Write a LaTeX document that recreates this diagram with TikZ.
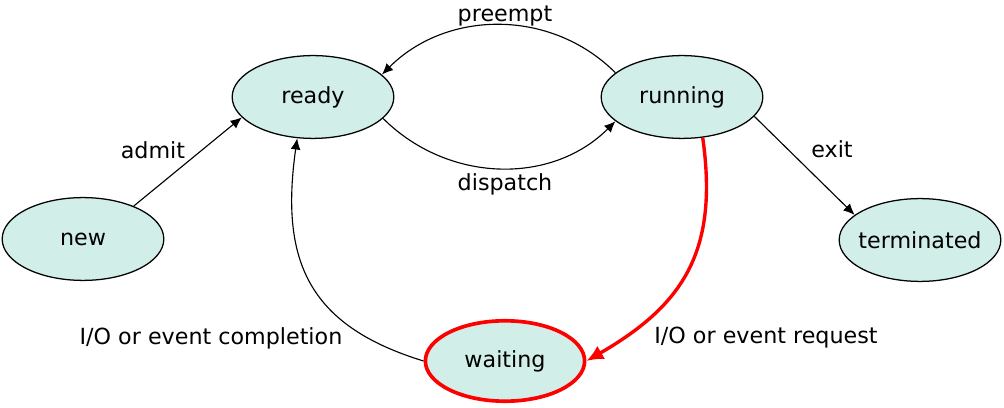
\documentclass[tikz,border=0pt]{standalone}
\usepackage{fontspec}
\setmainfont{DejaVu Sans}
\usepackage{xcolor}
\usetikzlibrary{shapes.geometric,arrows.meta}
\definecolor{statefill}{RGB}{209,238,232}
\tikzset{>={Latex[length=8pt,width=7pt]}}
\tikzset{
  state/.style={draw, ellipse, fill=statefill, line width=0.9pt,
    inner sep=-6pt, minimum width=4.04cm, minimum height=2.07cm,
    font=\fontsize{15.8}{19}\selectfont},
  edgelabel/.style={font=\fontsize{15.8}{19}\selectfont, inner sep=0pt}
}

\begin{document}
\begin{tikzpicture}[x=0.025cm,y=0.025cm]
  \useasboundingbox (0,0) rectangle (1004,407);

  \node [state] (ready) at (313,310) {ready};
  \node [state] (running) at (682,310) {running};
  \node [state] (new) at (83,168) {new};
  \node [state] (terminated) at (920,167) {terminated};
  \node [state,
    draw=red, line width=2.6pt,
    minimum width=3.98cm, minimum height=2.01cm
  ] (waiting) at (505,46) {waiting};

  \node [edgelabel] (lpreempt) at (505,391) {preempt};
  \node [edgelabel] (ldispatch) at (505,223) {dispatch};
  \node [edgelabel] (ladmit) at (153,257) {admit};
  \node [edgelabel] (lexit) at (832,258) {exit};
  \node [edgelabel] (lcompletion) at (211,69) {I/O or event completion};
  \node [edgelabel] (lrequest) at (766,69) {I/O or event request};

  \draw[->, line width=0.8pt] (new.33) -- (ready.196);
  \draw[->, line width=0.8pt] (running.-15) -- (terminated.159);
  \draw[->, line width=0.8pt] (running.160) to[out=135, in=45] (ready.18);
  \draw[->, line width=0.8pt] (ready.-17) to[out=-45, in=-135] (running.200);
  \draw[->, line width=0.8pt] (waiting.west) to[out=163, in=-98, looseness=1.22] (ready.249);
  \draw[-{Latex[length=12pt,width=11pt]}, red, line width=2.4pt]
    (running.-63) to[out=-82, in=30, looseness=1.15] (waiting.east);
\end{tikzpicture}
\end{document}
